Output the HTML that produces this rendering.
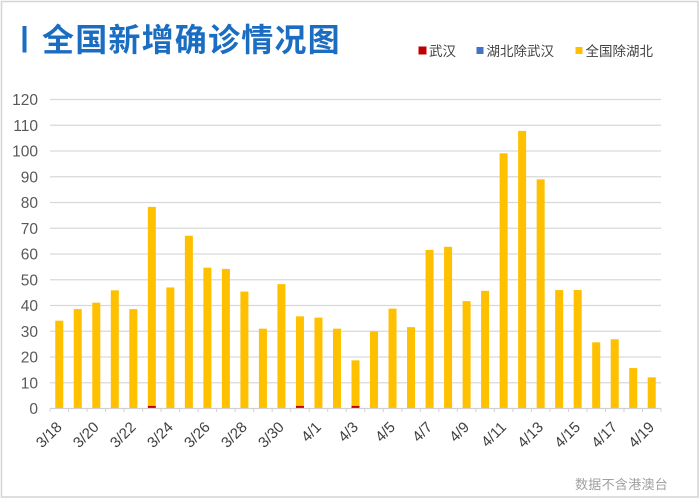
<!DOCTYPE html>
<html><head><meta charset="utf-8"><style>
html,body{margin:0;padding:0;background:#fff;}
svg{display:block;}
</style></head><body>
<svg width="700" height="499" viewBox="0 0 700 499" xmlns="http://www.w3.org/2000/svg">
<rect x="0" y="0" width="700" height="499" fill="#fff"/>
<rect x="1.5" y="1.5" width="696.5" height="495.5" fill="none" stroke="#d4d4d4" stroke-width="1.5"/>
<!-- title -->
<rect x="22.5" y="26" width="4" height="26.5" fill="#1a6dc1"/>
<text x="42" y="51" font-family="'Liberation Sans','Noto Sans CJK SC',sans-serif" font-size="32" font-weight="bold" letter-spacing="1.2" fill="#1a6dc1">全国新增确诊情况图</text>
<!-- legend -->
<g font-family="'Liberation Sans','Noto Sans CJK SC',sans-serif" font-size="13.5" fill="#404040">
<rect x="418.5" y="46.5" width="8" height="8" fill="#c00000"/>
<text x="429" y="56">武汉</text>
<rect x="476.5" y="47" width="7" height="7" fill="#4472c4"/>
<text x="486.5" y="56">湖北除武汉</text>
<rect x="575.5" y="47" width="7" height="7" fill="#ffc000"/>
<text x="585.5" y="56">全国除湖北</text>
</g>
<!-- gridlines -->
<g stroke="#d9d9d9" stroke-width="1.2">
<line x1="50" x2="661" y1="382.75" y2="382.75"/>
<line x1="50" x2="661" y1="357" y2="357"/>
<line x1="50" x2="661" y1="331.25" y2="331.25"/>
<line x1="50" x2="661" y1="305.5" y2="305.5"/>
<line x1="50" x2="661" y1="279.75" y2="279.75"/>
<line x1="50" x2="661" y1="254" y2="254"/>
<line x1="50" x2="661" y1="228.25" y2="228.25"/>
<line x1="50" x2="661" y1="202.5" y2="202.5"/>
<line x1="50" x2="661" y1="176.75" y2="176.75"/>
<line x1="50" x2="661" y1="151" y2="151"/>
<line x1="50" x2="661" y1="125.25" y2="125.25"/>
<line x1="50" x2="661" y1="99.5" y2="99.5"/>
</g>
<!-- y labels -->
<g font-family="'Liberation Sans',sans-serif" font-size="15.5" fill="#595959" text-anchor="end">
<text x="38" y="414">0</text>
<text x="38" y="388.25">10</text>
<text x="38" y="362.5">20</text>
<text x="38" y="336.75">30</text>
<text x="38" y="311">40</text>
<text x="38" y="285.25">50</text>
<text x="38" y="259.5">60</text>
<text x="38" y="233.75">70</text>
<text x="38" y="208">80</text>
<text x="38" y="182.25">90</text>
<text x="38" y="156.5">100</text>
<text x="38" y="130.75">110</text>
<text x="38" y="105">120</text>
</g>
<!-- bars -->
<g fill="#ffc000">
<rect x="55.26" y="320.69" width="8" height="87.81"/>
<rect x="73.77" y="309.10" width="8" height="99.40"/>
<rect x="92.29" y="302.67" width="8" height="105.83"/>
<rect x="110.80" y="290.31" width="8" height="118.19"/>
<rect x="129.32" y="309.10" width="8" height="99.40"/>
<rect x="147.83" y="206.88" width="8" height="199.0"/>
<rect x="166.35" y="287.47" width="8" height="121.03"/>
<rect x="184.86" y="235.72" width="8" height="172.78"/>
<rect x="203.38" y="267.65" width="8" height="140.85"/>
<rect x="221.89" y="268.93" width="8" height="139.57"/>
<rect x="240.41" y="291.59" width="8" height="116.91"/>
<rect x="258.92" y="328.67" width="8" height="79.83"/>
<rect x="277.44" y="284.13" width="8" height="124.37"/>
<rect x="295.95" y="316.31" width="8" height="89.6"/>
<rect x="314.47" y="317.60" width="8" height="90.90"/>
<rect x="332.98" y="328.67" width="8" height="79.83"/>
<rect x="351.50" y="360.35" width="8" height="45.55"/>
<rect x="370.01" y="331.25" width="8" height="77.25"/>
<rect x="388.53" y="308.59" width="8" height="99.91"/>
<rect x="407.04" y="327.13" width="8" height="81.37"/>
<rect x="425.56" y="249.88" width="8" height="158.62"/>
<rect x="444.07" y="246.79" width="8" height="161.71"/>
<rect x="462.59" y="301.12" width="8" height="107.38"/>
<rect x="481.10" y="290.82" width="8" height="117.68"/>
<rect x="499.62" y="153.32" width="8" height="255.18"/>
<rect x="518.13" y="130.91" width="8" height="277.59"/>
<rect x="536.65" y="179.32" width="8" height="229.18"/>
<rect x="555.16" y="290.05" width="8" height="118.45"/>
<rect x="573.68" y="290.05" width="8" height="118.45"/>
<rect x="592.19" y="342.32" width="8" height="66.18"/>
<rect x="610.71" y="339.23" width="8" height="69.27"/>
<rect x="629.22" y="368.07" width="8" height="40.43"/>
<rect x="647.74" y="377.34" width="8" height="31.16"/>
</g>
<g fill="#c00000">
<rect x="147.83" y="405.9" width="8" height="2.6"/>
<rect x="295.95" y="405.9" width="8" height="2.6"/>
<rect x="351.50" y="405.9" width="8" height="2.6"/>
</g>
<!-- axis -->
<line x1="50" x2="661" y1="408.5" y2="408.5" stroke="#d0d0d0" stroke-width="1.2"/>
<g stroke="#d0d0d0" stroke-width="1">
<line x1="50" x2="50" y1="408.5" y2="412"/>
<line x1="68.52" x2="68.52" y1="408.5" y2="412"/>
<line x1="87.03" x2="87.03" y1="408.5" y2="412"/>
<line x1="105.55" x2="105.55" y1="408.5" y2="412"/>
<line x1="124.06" x2="124.06" y1="408.5" y2="412"/>
<line x1="142.58" x2="142.58" y1="408.5" y2="412"/>
<line x1="161.09" x2="161.09" y1="408.5" y2="412"/>
<line x1="179.61" x2="179.61" y1="408.5" y2="412"/>
<line x1="198.12" x2="198.12" y1="408.5" y2="412"/>
<line x1="216.64" x2="216.64" y1="408.5" y2="412"/>
<line x1="235.15" x2="235.15" y1="408.5" y2="412"/>
<line x1="253.67" x2="253.67" y1="408.5" y2="412"/>
<line x1="272.18" x2="272.18" y1="408.5" y2="412"/>
<line x1="290.70" x2="290.70" y1="408.5" y2="412"/>
<line x1="309.21" x2="309.21" y1="408.5" y2="412"/>
<line x1="327.73" x2="327.73" y1="408.5" y2="412"/>
<line x1="346.24" x2="346.24" y1="408.5" y2="412"/>
<line x1="364.76" x2="364.76" y1="408.5" y2="412"/>
<line x1="383.27" x2="383.27" y1="408.5" y2="412"/>
<line x1="401.79" x2="401.79" y1="408.5" y2="412"/>
<line x1="420.30" x2="420.30" y1="408.5" y2="412"/>
<line x1="438.82" x2="438.82" y1="408.5" y2="412"/>
<line x1="457.33" x2="457.33" y1="408.5" y2="412"/>
<line x1="475.85" x2="475.85" y1="408.5" y2="412"/>
<line x1="494.36" x2="494.36" y1="408.5" y2="412"/>
<line x1="512.88" x2="512.88" y1="408.5" y2="412"/>
<line x1="531.39" x2="531.39" y1="408.5" y2="412"/>
<line x1="549.91" x2="549.91" y1="408.5" y2="412"/>
<line x1="568.42" x2="568.42" y1="408.5" y2="412"/>
<line x1="586.94" x2="586.94" y1="408.5" y2="412"/>
<line x1="605.45" x2="605.45" y1="408.5" y2="412"/>
<line x1="623.97" x2="623.97" y1="408.5" y2="412"/>
<line x1="642.48" x2="642.48" y1="408.5" y2="412"/>
<line x1="661" x2="661" y1="408.5" y2="412"/>
</g>
<!-- x labels -->
<g font-family="'Liberation Sans',sans-serif" font-size="15" fill="#404040" text-anchor="end">
<text transform="translate(62.8,428) rotate(-45)">3/18</text>
<text transform="translate(99.8,428) rotate(-45)">3/20</text>
<text transform="translate(136.8,428) rotate(-45)">3/22</text>
<text transform="translate(173.9,428) rotate(-45)">3/24</text>
<text transform="translate(210.9,428) rotate(-45)">3/26</text>
<text transform="translate(247.9,428) rotate(-45)">3/28</text>
<text transform="translate(284.9,428) rotate(-45)">3/30</text>
<text transform="translate(322.0,428) rotate(-45)">4/1</text>
<text transform="translate(359.0,428) rotate(-45)">4/3</text>
<text transform="translate(396.0,428) rotate(-45)">4/5</text>
<text transform="translate(433.1,428) rotate(-45)">4/7</text>
<text transform="translate(470.1,428) rotate(-45)">4/9</text>
<text transform="translate(507.1,428) rotate(-45)">4/11</text>
<text transform="translate(544.2,428) rotate(-45)">4/13</text>
<text transform="translate(581.2,428) rotate(-45)">4/15</text>
<text transform="translate(618.2,428) rotate(-45)">4/17</text>
<text transform="translate(655.2,428) rotate(-45)">4/19</text>
</g>
<!-- footnote -->
<text x="575" y="489" font-family="'Liberation Sans','Noto Sans CJK SC',sans-serif" font-size="13" letter-spacing="0.3" fill="#a0a0a0">数据不含港澳台</text>
</svg>
</body></html>
